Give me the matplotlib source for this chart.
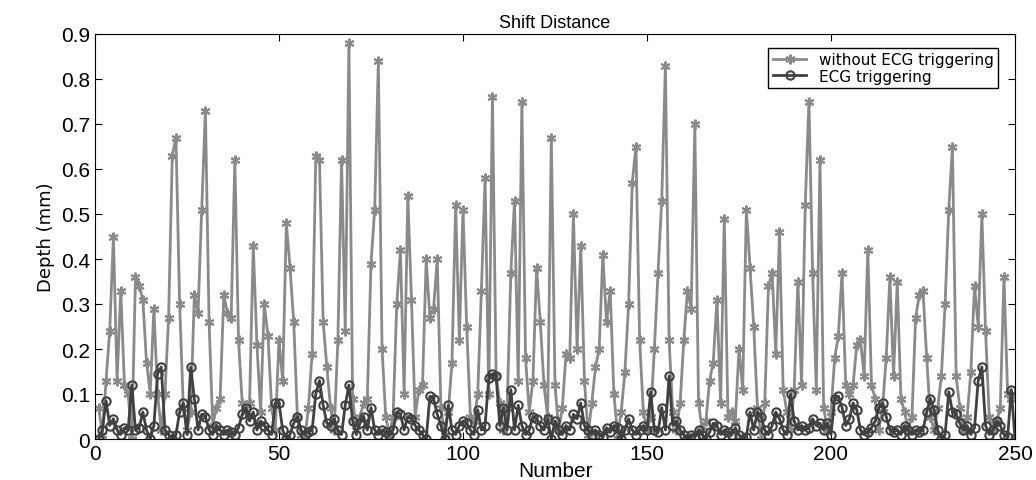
import matplotlib
matplotlib.use("Agg")
import matplotlib.pyplot as plt
import numpy as np
from matplotlib import font_manager

plt.rcParams['font.family'] = ['Liberation Sans', 'DejaVu Sans']
narrow = 'Liberation Sans Narrow' if any('Narrow' in f.name for f in font_manager.fontManager.ttflist) else 'Liberation Sans'

without_ecg = [
    0.07, 0.01, 0.13, 0.24, 0.45, 0.13, 0.33, 0.12, 0.10, 0.00,
    0.36, 0.34, 0.31, 0.17, 0.10, 0.29, 0.10, 0.02, 0.10, 0.27,
    0.63, 0.67, 0.30, 0.07, 0.02, 0.06, 0.32, 0.28, 0.51, 0.73,
    0.26, 0.03, 0.07, 0.09, 0.32, 0.28, 0.27, 0.62, 0.22, 0.08,
    0.06, 0.08, 0.43, 0.21, 0.06, 0.30, 0.23, 0.07, 0.02, 0.22,
    0.13, 0.48, 0.38, 0.26, 0.05, 0.01, 0.00, 0.07, 0.19, 0.63,
    0.62, 0.26, 0.16, 0.07, 0.02, 0.22, 0.62, 0.24, 0.88, 0.09,
    0.02, 0.05, 0.08, 0.09, 0.39, 0.51, 0.84, 0.20, 0.05, 0.01,
    0.05, 0.30, 0.42, 0.10, 0.54, 0.31, 0.05, 0.11, 0.12, 0.40,
    0.27, 0.29, 0.40, 0.07, 0.01, 0.06, 0.17, 0.52, 0.22, 0.51,
    0.25, 0.05, 0.04, 0.10, 0.33, 0.58, 0.10, 0.76, 0.14, 0.08,
    0.02, 0.07, 0.37, 0.53, 0.13, 0.75, 0.18, 0.06, 0.13, 0.38,
    0.26, 0.12, 0.05, 0.67, 0.12, 0.02, 0.07, 0.19, 0.18, 0.50,
    0.20, 0.43, 0.13, 0.01, 0.08, 0.16, 0.20, 0.41, 0.26, 0.33,
    0.10, 0.01, 0.06, 0.15, 0.30, 0.57, 0.65, 0.22, 0.06, 0.02,
    0.05, 0.20, 0.37, 0.53, 0.83, 0.22, 0.06, 0.02, 0.08, 0.22,
    0.33, 0.29, 0.70, 0.08, 0.02, 0.04, 0.13, 0.17, 0.31, 0.08,
    0.49, 0.05, 0.06, 0.04, 0.20, 0.11, 0.51, 0.38, 0.25, 0.07,
    0.00, 0.08, 0.34, 0.37, 0.19, 0.46, 0.11, 0.06, 0.02, 0.11,
    0.35, 0.12, 0.52, 0.75, 0.37, 0.11, 0.62, 0.07, 0.02, 0.06,
    0.18, 0.23, 0.37, 0.12, 0.10, 0.12, 0.21, 0.22, 0.14, 0.42,
    0.12, 0.09, 0.02, 0.07, 0.18, 0.36, 0.14, 0.35, 0.09, 0.06,
    0.02, 0.05, 0.27, 0.32, 0.33, 0.18, 0.05, 0.02, 0.07, 0.14,
    0.30, 0.51, 0.65, 0.14, 0.07, 0.02, 0.05, 0.15, 0.34, 0.25,
    0.50, 0.24, 0.05, 0.02, 0.04, 0.07, 0.36, 0.10, 0.09, 0.10,
]

ecg = [
    0.00, 0.02, 0.085, 0.03, 0.045, 0.02, 0.01, 0.025, 0.02, 0.12,
    0.02, 0.025, 0.06, 0.02, 0.00, 0.03, 0.145, 0.16, 0.02, 0.01,
    0.00, 0.01, 0.06, 0.08, 0.01, 0.16, 0.09, 0.02, 0.055, 0.05,
    0.02, 0.01, 0.03, 0.02, 0.01, 0.02, 0.015, 0.01, 0.025, 0.055,
    0.07, 0.04, 0.06, 0.02, 0.04, 0.03, 0.02, 0.01, 0.08, 0.08,
    0.02, 0.00, 0.01, 0.035, 0.05, 0.02, 0.01, 0.015, 0.02, 0.10,
    0.13, 0.075, 0.035, 0.03, 0.045, 0.02, 0.01, 0.075, 0.12, 0.04,
    0.01, 0.035, 0.05, 0.02, 0.07, 0.02, 0.01, 0.02, 0.015, 0.01,
    0.02, 0.06, 0.055, 0.02, 0.05, 0.045, 0.03, 0.02, 0.01, 0.00,
    0.095, 0.09, 0.055, 0.03, 0.00, 0.075, 0.02, 0.01, 0.03, 0.04,
    0.035, 0.02, 0.01, 0.065, 0.02, 0.03, 0.135, 0.145, 0.14, 0.03,
    0.07, 0.02, 0.11, 0.02, 0.075, 0.03, 0.01, 0.02, 0.05, 0.045,
    0.03, 0.02, 0.045, 0.00, 0.04, 0.02, 0.01, 0.03, 0.02, 0.055,
    0.045, 0.08, 0.03, 0.02, 0.01, 0.02, 0.01, 0.005, 0.025, 0.015,
    0.03, 0.025, 0.00, 0.02, 0.045, 0.02, 0.01, 0.02, 0.03, 0.02,
    0.105, 0.02, 0.015, 0.07, 0.02, 0.14, 0.03, 0.04, 0.02, 0.01,
    0.00, 0.01, 0.005, 0.02, 0.01, 0.00, 0.015, 0.035, 0.03, 0.01,
    0.02, 0.015, 0.01, 0.025, 0.01, 0.00, 0.005, 0.06, 0.02, 0.06,
    0.05, 0.02, 0.01, 0.03, 0.06, 0.045, 0.02, 0.01, 0.10, 0.04,
    0.02, 0.03, 0.02, 0.025, 0.045, 0.03, 0.035, 0.02, 0.035, 0.01,
    0.09, 0.095, 0.07, 0.03, 0.045, 0.08, 0.065, 0.02, 0.01, 0.015,
    0.025, 0.04, 0.07, 0.08, 0.05, 0.02, 0.015, 0.02, 0.01, 0.03,
    0.02, 0.01, 0.02, 0.015, 0.02, 0.06, 0.09, 0.065, 0.02, 0.00,
    0.01, 0.105, 0.06, 0.055, 0.035, 0.02, 0.03, 0.01, 0.025, 0.13,
    0.16, 0.03, 0.01, 0.02, 0.04, 0.03, 0.01, 0.005, 0.11, 0.00,
]

numbers = np.arange(1, len(without_ecg) + 1)
x_ticks = [0, 50, 100, 150, 200, 250]
y_ticks = [0, 0.1, 0.2, 0.3, 0.4, 0.5, 0.6, 0.7, 0.8, 0.9]
y_labels = ["0", "0.1", "0.2", "0.3", "0.4", "0.5", "0.6", "0.7", "0.8", "0.9"]

fig = plt.figure(figsize=(10.36, 4.81), dpi=100)
ax = fig.add_axes([95/1036, 1-440/481, 920/1036, 405/481])

ax.plot(numbers, without_ecg, color='#8a8a8a', lw=2.0, marker=(6, 2, 0),
        ms=7, mew=1.5, label='without ECG triggering')
ax.plot(numbers, ecg, color='#404040', lw=2.0, marker='o', ms=6,
        mfc='none', mew=1.5, label='ECG triggering')

ax.set_xlim(0, 250)
ax.set_ylim(0, 0.9)
ax.set_xticks(x_ticks)
ax.set_yticks(y_ticks)
ax.set_yticklabels(y_labels)
ax.tick_params(direction='in', labelsize=15, length=5, top=True, right=True)
ax.set_xlabel('Number', fontsize=15, labelpad=-1)
ax.set_ylabel('Depth (mm)', fontsize=13, labelpad=4, family=narrow)
ax.set_title('Shift Distance', fontsize=13, pad=5)

leg = ax.legend(loc='upper right', fontsize=10, fancybox=False, framealpha=1,
                edgecolor='black', borderpad=0.3, labelspacing=0.1,
                handlelength=2.2, bbox_to_anchor=(0.99, 0.985),
                prop={'family': narrow, 'size': 11})
leg.get_frame().set_linewidth(1.0)

fig.savefig('out.png', dpi=100)
